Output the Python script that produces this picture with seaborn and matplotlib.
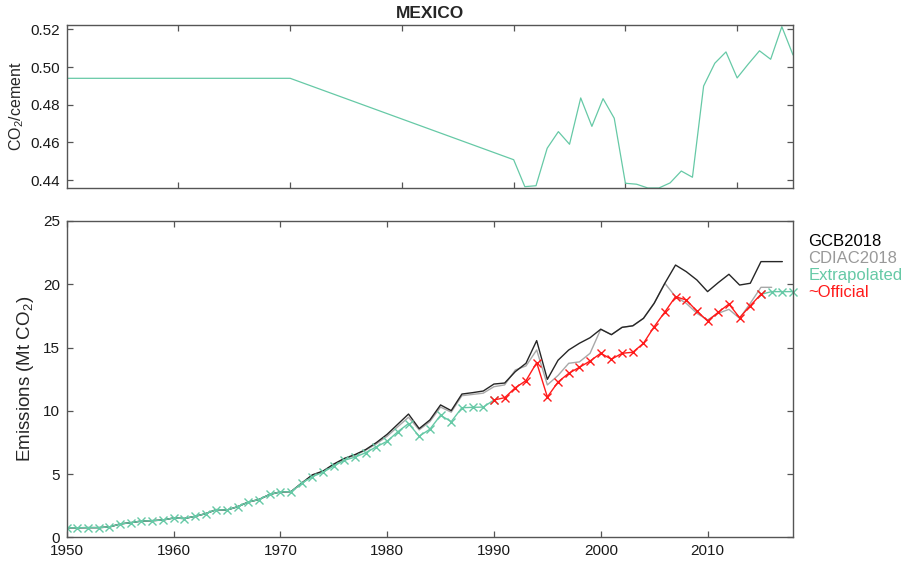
import numpy as np
import pandas as pd
import matplotlib
matplotlib.use("Agg")
import matplotlib.pyplot as plt
import seaborn as sns

# ---------------- data ----------------
ratio_years = [1950, 1970, 1990] + list(range(1991, 2016))
ratio_vals = [0.494, 0.494, 0.4508,
              0.4365, 0.4370, 0.4569, 0.4657, 0.4590, 0.4836, 0.4685, 0.4832, 0.4728,
              0.4383, 0.4378, 0.4358, 0.4358, 0.4385, 0.4448, 0.4415, 0.4899, 0.5020,
              0.5080, 0.4942, 0.5016, 0.5086, 0.5041, 0.5214, 0.5064]

early_years = list(range(1950, 1972))
early_vals = [0.77, 0.77, 0.78, 0.78, 0.83, 1.07, 1.17, 1.30, 1.33, 1.38, 1.54,
              1.50, 1.67, 1.88, 2.20, 2.17, 2.43, 2.80, 3.00, 3.40, 3.60, 3.62]

extrap_years_a = list(range(1950, 1991))
extrap_vals_a = early_vals + [4.28, 4.80, 5.15, 5.65, 6.10, 6.35, 6.70, 7.17, 7.60,
                              8.35, 9.00, 8.00, 8.55, 9.65, 9.15, 10.25, 10.28, 10.30, 10.86]
extrap_years_b = [2015, 2016, 2017, 2018]
extrap_vals_b = [19.21, 19.42, 19.42, 19.42]

gcb_years = list(range(1950, 2018))
gcb_vals = early_vals + [4.30, 4.95, 5.25, 5.80, 6.25, 6.55, 6.95, 7.50, 8.15,
                         8.95, 9.75, 8.60, 9.28, 10.47, 10.02, 11.33, 11.44, 11.57,
                         12.12, 12.20, 13.10, 13.76, 15.55, 12.49, 14.00, 14.81, 15.34, 15.78,
                         16.45, 16.02, 16.60, 16.72, 17.31, 18.50, 20.08, 21.52, 21.00, 20.34,
                         19.42, 20.13, 20.79, 19.94, 20.08, 21.79, 21.79, 21.79]

cdiac_years = list(range(1950, 2017))
cdiac_vals = early_vals + [4.28, 4.90, 5.20, 5.75, 6.20, 6.50, 6.90, 7.40, 8.00,
                           8.75, 9.50, 8.50, 9.15, 10.30, 9.90, 11.20, 11.30, 11.40,
                           11.91, 12.05, 13.23, 13.55, 14.81, 12.05, 12.80, 13.76, 13.87, 14.55,
                           16.45, 16.02, 16.60, 16.72, 17.31, 18.50, 20.08, 19.02, 18.50, 17.71,
                           17.18, 17.71, 18.02, 17.31, 18.50, 19.76, 19.76]

official_years = list(range(1990, 2016))
official_vals = [10.86, 11.04, 11.83, 12.39, 13.81, 11.10, 12.28, 12.97, 13.44, 13.94,
                 14.55, 14.08, 14.55, 14.63, 15.34, 16.65, 17.81, 19.02, 18.76, 17.89,
                 17.10, 17.79, 18.44, 17.36, 18.31, 19.21]

series_names = ["GCB2018", "CDIAC2018", "Extrapolated", "~Official"]
# --------------------------------------

sns.set_theme(style="white")
plt.rcParams["font.family"] = ["Liberation Sans", "DejaVu Sans"]
plt.rcParams["mathtext.fontset"] = "custom"
plt.rcParams["mathtext.rm"] = "Liberation Sans"
plt.rcParams["mathtext.it"] = "Liberation Sans:italic"

C_GCB = "#262626"
C_CDIAC = "#a8a8a8"
C_EXT = "#66c9a6"
C_OFF = "#ff1a1a"
SPINE = "#555555"

fig = plt.figure(figsize=(9.09, 5.64), dpi=100)
ax1 = fig.add_axes([0.0734, 0.6667, 0.8724 - 0.0734, 0.9557 - 0.6667])
ax2 = fig.add_axes([0.0734, 0.047, 0.8724 - 0.0734, 0.6082 - 0.047])

# top panel
sns.lineplot(x=ratio_years, y=ratio_vals, ax=ax1, color=C_EXT, linewidth=0.9,
             estimator=None, sort=False)
ax1.set_xlim(1950, 2015)
ax1.set_ylim(0.4358, 0.5223)
ax1.set_xticks(range(1960, 2015, 10))
ax1.set_xticklabels([])
ax1.set_yticks([0.44, 0.46, 0.48, 0.50, 0.52])
ax1.set_yticklabels(["0.44", "0.46", "0.48", "0.50", "0.52"])
ax1.set_ylabel("CO$_2$/cement", fontsize=11.5, labelpad=3)
ax1.set_title("MEXICO", fontsize=12.5, fontweight="bold", pad=5)

# bottom panel
sns.lineplot(x=cdiac_years, y=cdiac_vals, ax=ax2, color=C_CDIAC, linewidth=1.0,
             estimator=None, sort=False, label=series_names[1])
sns.lineplot(x=gcb_years, y=gcb_vals, ax=ax2, color=C_GCB, linewidth=1.0,
             estimator=None, sort=False, label=series_names[0])
sns.lineplot(x=extrap_years_a, y=extrap_vals_a, ax=ax2, color=C_EXT, linewidth=1.0,
             marker="x", markersize=6, markeredgewidth=1.0, markeredgecolor=C_EXT,
             estimator=None, sort=False, label=series_names[2])
sns.lineplot(x=extrap_years_b, y=extrap_vals_b, ax=ax2, color=C_EXT, linewidth=1.0,
             marker="x", markersize=6, markeredgewidth=1.0, markeredgecolor=C_EXT,
             estimator=None, sort=False, clip_on=False)
sns.lineplot(x=official_years, y=official_vals, ax=ax2, color=C_OFF, linewidth=1.0,
             marker="x", markersize=6, markeredgewidth=1.0, markeredgecolor=C_OFF,
             estimator=None, sort=False, label=series_names[3])
ax2.set_xlim(1950, 2018)
ax2.set_ylim(0, 25)
ax2.set_xticks(range(1950, 2011, 10))
ax2.set_yticks(range(0, 26, 5))
ax2.set_ylabel("Emissions (Mt CO$_2$)", fontsize=13.5, labelpad=5)
ax2.set_xlabel("")

# legend: coloured text only
handles, labels = ax2.get_legend_handles_labels()
order = [labels.index(n) for n in series_names]
leg = ax2.legend([handles[i] for i in order], [labels[i] for i in order],
                 loc="upper left", bbox_to_anchor=(1.012, 0.98), frameon=False,
                 handlelength=0, handletextpad=0, labelspacing=0.12,
                 fontsize=12, borderaxespad=0)
for h in leg.legend_handles:
    h.set_visible(False)
for t, c in zip(leg.get_texts(), ["black", "#999999", C_EXT, C_OFF]):
    t.set_color(c)

for ax in (ax1, ax2):
    for s in ax.spines.values():
        s.set_visible(True)
        s.set_color(SPINE)
        s.set_linewidth(1.0)
    ax.tick_params(direction="in", length=4, width=0.9, color=SPINE,
                   top=True, right=True, bottom=True, left=True,
                   labelsize=11, labelcolor="#1a1a1a")
    ax.tick_params(axis="y", pad=5)
    ax.tick_params(axis="x", pad=5)

fig.savefig("out.png", dpi=100, facecolor="white")
